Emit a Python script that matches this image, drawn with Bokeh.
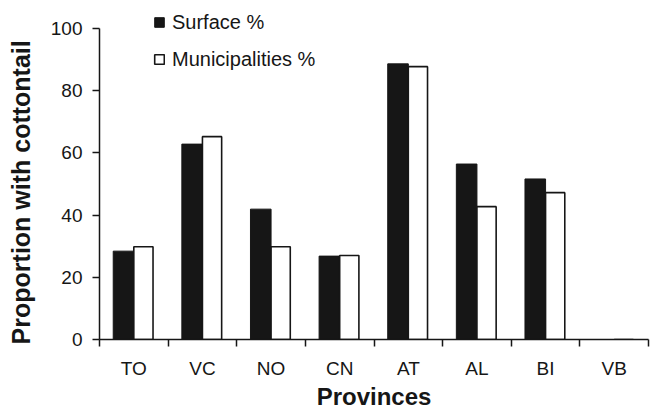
from bokeh.plotting import figure
from bokeh.models import (FactorRange, Range1d, LinearAxis, CategoricalAxis, FixedTicker,
                          Legend, LegendItem)
from bokeh.transform import dodge
from bokeh.embed import file_html
from bokeh.resources import INLINE

categories = ["TO", "VC", "NO", "CN", "AT", "AL", "BI", "VB"]
surface = [28.4, 62.8, 41.9, 26.8, 88.6, 56.4, 51.6, 0]
municipalities = [29.8, 65.2, 29.8, 27.0, 87.7, 42.7, 47.2, 0]
y_ticks = [0, 20, 40, 60, 80, 100]

FONT = "Liberation Sans"
INK = "#161616"

p = figure(width=650, height=412, x_range=FactorRange(*categories), y_range=Range1d(0, 108),
           x_axis_location=None, y_axis_location=None,
           output_backend="svg", toolbar_location=None,
           min_border_left=99, min_border_right=2, min_border_top=3, min_border_bottom=72)
p.outline_line_color = None
p.xgrid.visible = False
p.ygrid.visible = False
p.background_fill_color = "white"
p.border_fill_color = "white"

data = dict(cat=categories, surface=surface, municipalities=municipalities)
r1 = p.vbar(x=dodge("cat", -0.15, range=p.x_range), top="surface", width=0.3, source=data,
            fill_color=INK, line_color=INK, line_width=1)
r2 = p.vbar(x=dodge("cat", 0.14, range=p.x_range), top="municipalities", width=0.28, source=data,
            fill_color="white", line_color=INK, line_width=1.6)

# y axis
yax = LinearAxis(ticker=FixedTicker(ticks=y_ticks), bounds=(0, 100),
                 axis_label="Proportion with cottontail" + "\u00a0" * 6,
                 axis_label_text_font=FONT, axis_label_text_font_size="25px",
                 axis_label_text_font_style="bold", axis_label_text_color=INK,
                 axis_label_standoff=13,
                 major_label_text_font=FONT, major_label_text_font_size="19px",
                 major_label_text_color=INK, major_label_standoff=10,
                 major_tick_out=7, major_tick_in=0, minor_tick_line_color=None,
                 axis_line_width=1.5, axis_line_color=INK, major_tick_line_width=1.5,
                 major_tick_line_color=INK)
p.add_layout(yax, "left")

# x tick axis at category boundaries (synthetic coordinates 0..N)
tax = LinearAxis(ticker=FixedTicker(ticks=list(range(len(categories) + 1))),
                 major_label_text_font_size="0px", major_label_standoff=0,
                 major_tick_out=7, major_tick_in=0, minor_tick_line_color=None,
                 axis_line_width=1.5, axis_line_color=INK, major_tick_line_width=1.5,
                 major_tick_line_color=INK)
p.add_layout(tax, "below")

cax = CategoricalAxis(major_tick_line_color=None, axis_line_color=None,
                      major_label_text_font=FONT, major_label_text_font_size="19px",
                      major_label_text_color=INK, major_label_standoff=5,
                      axis_label="Provinces", axis_label_text_font=FONT,
                      axis_label_text_font_size="24px", axis_label_text_font_style="bold",
                      axis_label_text_color=INK, axis_label_standoff=1)
p.add_layout(cax, "below")

legend = Legend(items=[LegendItem(label="Surface %", renderers=[r1]),
                       LegendItem(label="Municipalities %", renderers=[r2])],
                location=(54, 268), orientation="vertical",
                border_line_color=None, background_fill_alpha=0,
                padding=0, margin=0, spacing=13, glyph_width=12, glyph_height=12,
                label_text_font=FONT, label_text_font_size="20px", label_text_color=INK,
                label_standoff=7, label_height=24)
p.add_layout(legend)

open("out.html", "w").write(file_html(p, INLINE))
